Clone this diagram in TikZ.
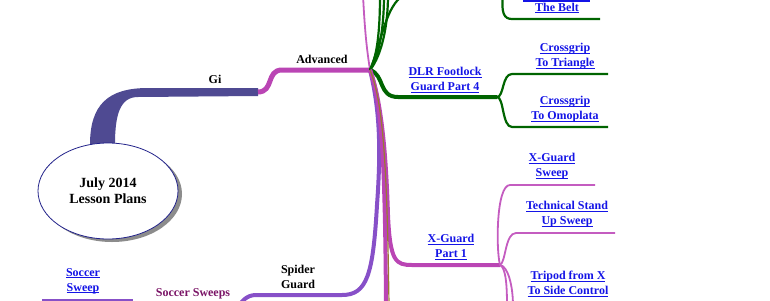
\documentclass[tikz,border=0pt]{standalone}
\usepackage{fontspec}
\setmainfont{Liberation Serif}
\usepackage{xcolor}
\usetikzlibrary{shapes,shadows,backgrounds,positioning,calc}

\definecolor{gicol}{HTML}{4F4A92}
\definecolor{advcol}{HTML}{BA45B4}
\definecolor{advlight}{HTML}{C45CC0}
\definecolor{dlrcol}{HTML}{006400}
\definecolor{spidercol}{HTML}{8750C8}
\definecolor{brncol}{HTML}{9A7A30}
\definecolor{linkcol}{HTML}{1414E6}
\definecolor{rootcol}{HTML}{22228A}
\definecolor{soccercol}{HTML}{7A1466}

% underlined link text
\newcommand{\ulink}[1]{\setbox0\hbox{#1}\rlap{\rule[-2.2pt]{\wd0}{1pt}}\box0}

\begin{document}
\begin{tikzpicture}[x=1pt, y=-1pt,
    root/.style={ellipse, draw=rootcol, line width=0.8pt, fill=white, minimum width=140pt, minimum height=96pt, inner sep=0pt, align=center, font=\fontsize{14}{16}\selectfont\bfseries, drop shadow={shadow xshift=4pt, shadow yshift=-3pt, fill=black!45, opacity=1}},
    topic/.style={align=center, font=\fontsize{12}{15}\selectfont\bfseries, inner sep=0pt},
    link/.style={topic, text=linkcol},
    advline/.style={draw=advcol, line width=5pt},
    advthin/.style={draw=advlight, line width=1.8pt},
    dlrthick/.style={draw=dlrcol, line width=4pt},
    dlrthin/.style={draw=dlrcol, line width=2.2pt},
    spiderline/.style={draw=spidercol, line width=4pt},
    spiderthin/.style={draw=spidercol, line width=2pt},
    brnline/.style={draw=brncol, line width=1.2pt},
]
\useasboundingbox (0,0) rectangle (770,300);
\clip (0,0) rectangle (770,300);

% Root
\node[root] (root) at (108,191) {July 2014\\Lesson Plans};

% Junction points and branch ends
\coordinate (gi) at (258,92);
\coordinate (adv) at (370,70);
\coordinate (dlr) at (497,97);
\coordinate (xg) at (500,265);
\coordinate (uptop) at (363,-5);
\coordinate (g1) at (380,-5);
\coordinate (g2) at (384,-5);
\coordinate (g3) at (388,-5);
\coordinate (g4) at (404,-5);
\coordinate (belttop) at (503,-5);
\coordinate (beltl) at (512,19);
\coordinate (belte) at (600,19);
\coordinate (dlrl) at (398,97);
\coordinate (tril) at (512,74);
\coordinate (trie) at (608,74);
\coordinate (omol) at (512,127);
\coordinate (omoe) at (608,127);
\coordinate (spj) at (377,205);
\coordinate (spk) at (342,295);
\coordinate (spl) at (256,295);
\coordinate (sptail) at (238,306);
\coordinate (pkj) at (388,215);
\coordinate (pkbot) at (386,306);
\coordinate (brbot) at (389,306);
\coordinate (xgl) at (412,265);
\coordinate (xgsl) at (510,185);
\coordinate (xgse) at (595,185);
\coordinate (tssl) at (516,233);
\coordinate (tsse) at (615,233);
\coordinate (tp1) at (507,306);
\coordinate (tp2) at (513,306);
\coordinate (socl) at (42,300);
\coordinate (socr) at (133,300);

% Gi branch (tapered)
\begin{scope}[on background layer]
\fill[gicol] ($(root.north)+(-18,2)$) .. controls +(0,-40) and +(-40,0) .. ($(gi)+(-110,-4)$)
    -- ($(gi)+(0,-4)$) -- ($(gi)+(0,4)$) -- ($(gi)+(-120,5)$)
    .. controls +(-18,0) and +(0,-30) .. ($(root.north)+(7,2)$) -- cycle;
\end{scope}

% Advanced
\draw[advline] (gi) .. controls +(16,0) and +(-16,0) .. ($(gi)+(24,-22)$) -- (adv);
\draw[advthin] (adv) .. controls +(-3,-20) and +(2,40) .. (uptop);

% Green bundle upwards
\draw[dlrthin] (adv) .. controls +(8,-15) and +(0,30) .. (g1);
\draw[dlrthin] (adv) .. controls +(10,-15) and +(0,30) .. (g2);
\draw[dlrthin] (adv) .. controls +(12,-15) and +(0,30) .. (g3);
\draw[dlrthin] (adv) .. controls +(12,-30) and +(-18,10) .. (g4);
\draw[dlrthin] (belttop) .. controls +(-2,18) and +(-8,0) .. (beltl) -- (belte);
\draw[linkcol, line width=1.5pt] (523,0.8) -- (590,0.8);

% DLR Footlock
\draw[dlrthick] (adv) .. controls +(15,5) and +(-20,0) .. (dlrl) -- (dlr);
\draw[dlrthin] (dlr) .. controls +(7,0) and +(-10,0) .. (tril) -- (trie);
\draw[dlrthin] (dlr) .. controls +(7,0) and +(-10,0) .. (omol) -- (omoe);

% Spider Guard
\draw[spiderline] (adv) .. controls (380,110) and (381,150) .. (spj)
    .. controls +(-4,70) and +(25,0) .. (spk) -- (spl) .. controls +(-10,0) and +(4,-4) .. (sptail);

% X-Guard and straight down
\draw[advline, line width=4pt] (adv) .. controls (381,100) and (385,150) .. (pkbot);
\draw[advline, line width=4pt] (adv) .. controls (381,100) and (386,150) .. (pkj)
    .. controls +(2,47) and +(-16,0) .. (xgl) -- (xg);
\draw[brnline] (adv) .. controls (382,100) and (387,150) .. (brbot);
\draw[advthin] (xg) .. controls +(-4,-15) and +(-14,0) .. (xgsl) -- (xgse);
\draw[advthin] (xg) .. controls +(6,-3) and +(-11,0) .. (tssl) -- (tsse);
\draw[advthin] (xg) .. controls +(6,3) and +(0,-20) .. (tp1);
\draw[advthin] (xg) .. controls +(8,1) and +(0,-20) .. (tp2);

% Soccer
\draw[spiderthin] (socl) -- (socr);

% Labels
\node[topic] (gilbl) at (215,79) {Gi};
\node[topic] (advlbl) at (322,59) {Advanced};
\node[topic] (spiderlbl) at (298,277) {Spider\\Guard};
\node[topic, text=soccercol] (soccerlbl) at (193,294) {Soccer Sweeps};
\node[link] (beltlbl) at (557,8) {\ulink{The Belt}};
\node[link] (dlrlbl) at (445,80) {\ulink{DLR Footlock}\\\ulink{Guard Part 4}};
\node[link] (trilbl) at (565,56) {\ulink{Crossgrip}\\\ulink{To Triangle}};
\node[link] (omolbl) at (565,109) {\ulink{Crossgrip}\\\ulink{To Omoplata}};
\node[link] (xglbl) at (451,247) {\ulink{X-Guard}\\\ulink{Part 1}};
\node[link] (xgslbl) at (552,166) {\ulink{X-Guard}\\\ulink{Sweep}};
\node[link] (tsslbl) at (567,214) {\ulink{Technical Stand}\\\ulink{Up Sweep}};
\node[link] (tplbl) at (568,284) {\ulink{Tripod from X}\\\ulink{To Side Control}};
\node[link] (soclbl) at (83,281) {\ulink{Soccer}\\\ulink{Sweep}};
\end{tikzpicture}
\end{document}
